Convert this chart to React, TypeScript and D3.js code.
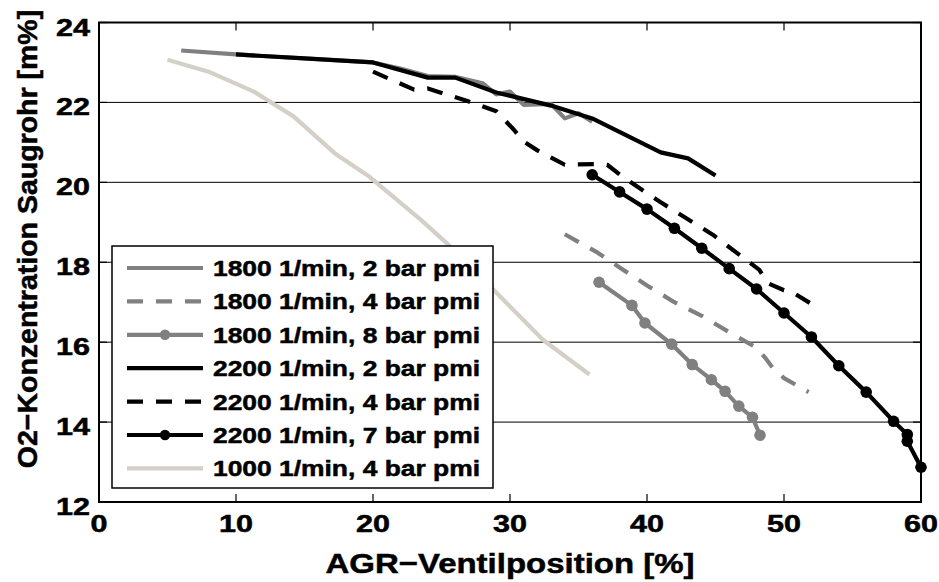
import React from "react";
import * as d3 from "d3";

type P = [number, number];

const s1800_2bar: P[] = [[6, 23.3], [10, 23.2], [20, 23.0], [22, 22.85], [24, 22.66], [26, 22.64], [28, 22.48], [29, 22.2], [30, 22.27], [31, 21.94], [33, 21.96], [34, 21.6], [35, 21.73], [36, 21.52]];
const s1800_4bar: P[] = [[34, 18.7], [36.4, 18.24], [38, 17.87], [40, 17.42], [42, 17.0], [44, 16.66], [46, 16.25], [48, 15.86], [48.6, 15.62], [49.2, 15.35], [50, 15.1], [51.8, 14.75]];
const s1800_8bar: P[] = [[36.5, 17.5], [38.9, 16.92], [39.85, 16.48], [41.8, 15.95], [43.3, 15.44], [44.7, 15.06], [45.7, 14.77], [46.7, 14.4], [47.7, 14.12], [48.25, 13.67]];
const s2200_2bar: P[] = [[10, 23.2], [15, 23.1], [20, 23.0], [24, 22.62], [26, 22.62], [29, 22.25], [33, 21.92], [36, 21.6], [41, 20.75], [43, 20.6], [45, 20.17]];
const s2200_4bar: P[] = [[20, 22.77], [23, 22.32], [24, 22.35], [27, 22.02], [29, 21.78], [30.3, 21.31], [31, 21.02], [32, 20.8], [34, 20.44], [36.4, 20.46], [37.1, 20.44], [38.3, 20.12], [41, 19.5], [44.8, 18.69], [48.2, 17.81], [48.8, 17.48], [50, 17.3], [50.5, 17.27], [51.9, 16.98]];
const s2200_7bar: P[] = [[36, 20.19], [38, 19.76], [40, 19.33], [42, 18.85], [44, 18.35], [46, 17.84], [48, 17.33], [50, 16.73], [52, 16.13], [54, 15.41], [56, 14.75], [58, 14.02], [59, 13.69], [59, 13.52], [60, 12.87]];
const s1000_4bar: P[] = [[5, 23.07], [8, 22.77], [11.3, 22.27], [14.2, 21.65], [17.3, 20.7], [19.7, 20.15], [23.5, 19.06], [25.5, 18.44], [28.8, 17.31], [32.4, 16.06], [35.8, 15.19]];

const seriesNames = [
  "1800 1/min, 2 bar pmi",
  "1800 1/min, 4 bar pmi",
  "1800 1/min, 8 bar pmi",
  "2200 1/min, 2 bar pmi",
  "2200 1/min, 4 bar pmi",
  "2200 1/min, 7 bar pmi",
  "1000 1/min, 4 bar pmi",
];
const seriesData = [s1800_2bar, s1800_4bar, s1800_8bar, s2200_2bar, s2200_4bar, s2200_7bar, s1000_4bar];
const seriesColors = ["#808080", "#808080", "#808080", "#000000", "#000000", "#000000", "#d4d0c8"];
const seriesDash = [null, "16,13", null, null, "16,13", null, null];
const seriesMarkers = [false, false, true, false, false, true, false];

const xTicks = [0, 10, 20, 30, 40, 50, 60];
const yTicks = [12, 14, 16, 18, 20, 22, 24];
const gridY = [14, 16, 18, 20, 22];

const W = 939, H = 582;
const L = 99, R = 921, T = 22.5, B = 502;
const FONT = "'Liberation Sans', Arial, Helvetica, sans-serif";

export default function App() {
  const x = d3.scaleLinear().domain([0, 60]).range([L, R]);
  const y = d3.scaleLinear().domain([12, 24]).range([B, T]);
  const line = d3.line<P>().x(d => x(d[0])).y(d => y(d[1]));

  const legX = 112, legY = 246, legW = 381, legH = 242;
  const rowY = (i: number) => 268 + i * 33.4;
  const textStroke = { stroke: "#000", strokeWidth: 0.5 };

  return (
    <svg width={W} height={H} style={{ position: "absolute", left: 0, top: 0, background: "#fff" }} fontFamily={FONT}>
      <rect x={0} y={0} width={W} height={H} fill="#fff" />
      {gridY.map(v => (
        <line key={"g" + v} x1={L} x2={R} y1={y(v)} y2={y(v)} stroke="#000" strokeWidth={1} />
      ))}
      {seriesData.map((d, i) => (
        <g key={"s" + i}>
          <path d={line(d) || ""} fill="none" stroke={seriesColors[i]} strokeWidth={4.2}
            strokeDasharray={seriesDash[i] || undefined} strokeLinejoin="round" />
          {seriesMarkers[i] && d.map((p, j) => (
            <circle key={j} cx={x(p[0])} cy={y(p[1])} r={5.8} fill={seriesColors[i]} />
          ))}
        </g>
      ))}
      <rect x={L} y={T} width={R - L} height={B - T} fill="none" stroke="#000" strokeWidth={2} />
      {xTicks.map(v => (
        <g key={"xt" + v}>
          <line x1={x(v)} x2={x(v)} y1={B} y2={B - 8} stroke="#000" strokeWidth={1.2} />
          <line x1={x(v)} x2={x(v)} y1={T} y2={T + 8} stroke="#000" strokeWidth={1.2} />
          <text transform={`translate(${x(v)},${532}) scale(1.3,1)`} textAnchor="middle" fontSize={23.5} fontWeight="bold" {...textStroke}>{v}</text>
        </g>
      ))}
      {yTicks.map(v => (
        <g key={"yt" + v}>
          <line x1={L} x2={L + 8} y1={y(v)} y2={y(v)} stroke="#000" strokeWidth={1.2} />
          <line x1={R} x2={R - 8} y1={y(v)} y2={y(v)} stroke="#000" strokeWidth={1.2} />
          <text transform={`translate(${90},${y(v) + 13}) scale(1.3,1)`} textAnchor="end" fontSize={23.5} fontWeight="bold" {...textStroke}>{v}</text>
        </g>
      ))}
      <text x={510} y={573} textAnchor="middle" fontSize={28} fontWeight="bold" textLength={369} lengthAdjust="spacingAndGlyphs" {...textStroke}>AGR−Ventilposition [%]</text>
      <text transform={`translate(37,${239}) rotate(-90)`} textAnchor="middle" fontSize={28.5} fontWeight="bold" {...textStroke}>O2−Konzentration Saugrohr [m%]</text>
      <rect x={legX} y={legY} width={legW} height={legH} fill="#fff" stroke="#000" strokeWidth={1.5} />
      {seriesNames.map((name, i) => (
        <g key={"l" + i}>
          <line x1={127} x2={203} y1={rowY(i)} y2={rowY(i)} stroke={seriesColors[i]} strokeWidth={4.2}
            strokeDasharray={seriesDash[i] || undefined} />
          {seriesMarkers[i] && <circle cx={165} cy={rowY(i)} r={5.2} fill={seriesColors[i]} />}
          <text x={213} y={rowY(i) + 8} fontSize={22} fontWeight="bold" textLength={267} lengthAdjust="spacingAndGlyphs" {...textStroke}>{name}</text>
        </g>
      ))}
    </svg>
  );
}
